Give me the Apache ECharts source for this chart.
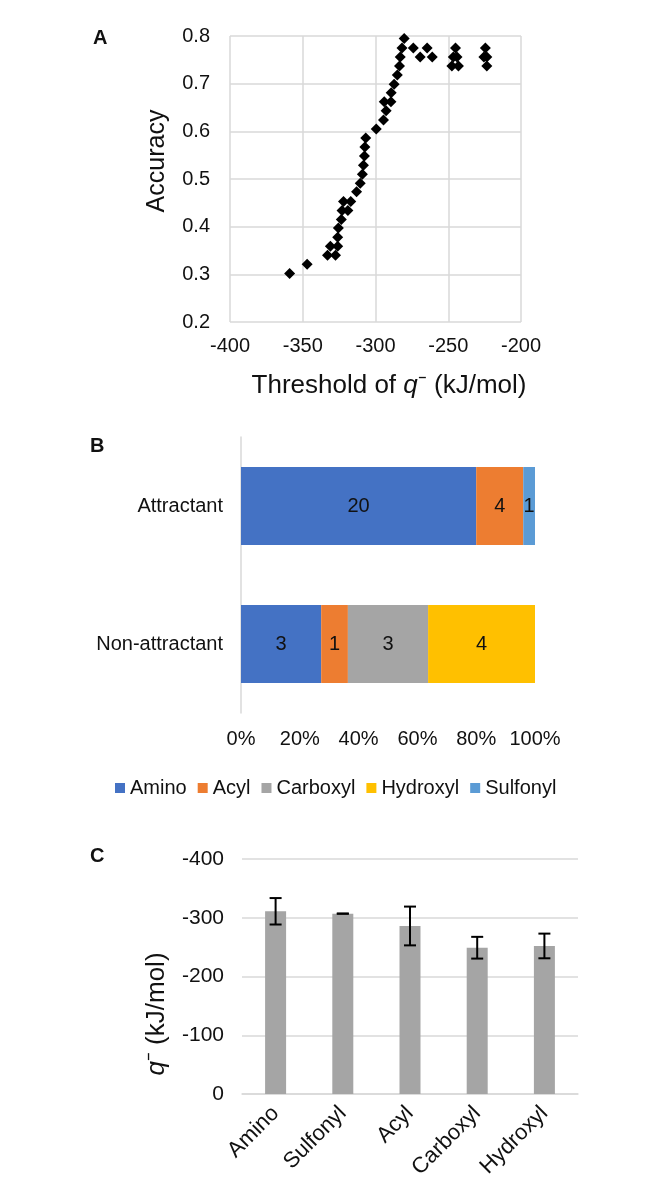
<!DOCTYPE html>
<html>
<head>
<meta charset="utf-8">
<script src="https://cdn.jsdelivr.net/npm/echarts@6/dist/echarts.min.js"></script>
<style>
html,body{margin:0;padding:0;background:#fff;}
#main{width:654px;height:1202px;}
</style>
</head>
<body>
<div id="main"></div>
<script>
// ---------- Panel A data ----------
const thresholdX = [-359,-347,-333,-327.5,-331,-326,-326,-325.5,-323.5,-323,-319,-322,-317,-313,-310.5,-309,-308.3,-307.6,-307.3,-306.7,-299.5,-294.5,-292.7,-294,-289.4,-289.2,-287.2,-285,-283.5,-283,-281.8,-280.3,-274,-269.3,-264.5,-261,-245,-246.5,-244,-247.5,-243,-224.5,-225.5,-223.5,-223.5];
const accuracyY  = [0.302,0.321,0.340,0.340,0.359,0.359,0.378,0.397,0.415,0.434,0.434,0.453,0.453,0.473,0.491,0.510,0.529,0.548,0.567,0.586,0.605,0.624,0.643,0.662,0.662,0.681,0.699,0.718,0.737,0.756,0.775,0.795,0.775,0.756,0.775,0.756,0.775,0.756,0.756,0.737,0.737,0.775,0.756,0.756,0.737];
const xTicksA = [-400,-350,-300,-250,-200];
const yTicksA = [0.2,0.3,0.4,0.5,0.6,0.7,0.8];

// ---------- Panel B data ----------
const groupsB = ['Attractant','Non-attractant'];
const typesB = ['Amino','Acyl','Carboxyl','Hydroxyl','Sulfonyl'];
const amino    = [20,3];
const acyl     = [4,1];
const carboxyl = [0,3];
const hydroxyl = [0,4];
const sulfonyl = [1,0];
const colorsB = ['#4472C4','#ED7D31','#A5A5A5','#FFC000','#5B9BD5'];

// ---------- Panel C data ----------
const catsC = ['Amino','Sulfonyl','Acyl','Carboxyl','Hydroxyl'];
const meanC = [-311,-307,-286,-249,-252];
const errC  = [22.5,0,33,18.5,21];

const FONT = 'Liberation Sans, Arial, sans-serif';
const TXT = '#111';
const GRIDC = '#d9d9d9';

const countsB = [amino, acyl, carboxyl, hydroxyl, sulfonyl];
const totals = groupsB.map((g,i)=>countsB.reduce((s,a)=>s+a[i],0));

const chart = echarts.init(document.getElementById('main'), null, {renderer:'canvas'});

const seriesB = typesB.map((name,k)=>({
  name, type:'bar', stack:'tot', xAxisIndex:1, yAxisIndex:1,
  barWidth:78,
  itemStyle:{color:colorsB[k]},
  data: countsB[k].map((c,i)=>({value:c/totals[i]*100, cnt:c})),
  label:{show:true, position:'inside', fontFamily:FONT, fontSize:20, color:TXT,
    formatter:(p)=> p.data.cnt ? String(p.data.cnt) : ''},
  emphasis:{disabled:true}
}));

const option = {
  animation:false,
  textStyle:{fontFamily:FONT},
  grid:[
    {left:230, top:36, width:291, height:286},
    {left:241, top:437, width:294, height:276},
    {left:242, top:859, width:336, height:235}
  ],
  xAxis:[
    {type:'value', gridIndex:0, min:xTicksA[0], max:xTicksA[xTicksA.length-1], interval:50,
      axisLine:{show:false}, axisTick:{show:false},
      splitLine:{show:true, lineStyle:{color:GRIDC, width:1.5}},
      axisLabel:{fontSize:20, color:TXT, margin:14, fontFamily:FONT}},
    {type:'value', gridIndex:1, min:0, max:100, interval:20,
      axisLine:{show:false}, axisTick:{show:false}, splitLine:{show:false},
      axisLabel:{fontSize:20, color:TXT, margin:16, formatter:'{value}%', fontFamily:FONT}},
    {type:'category', gridIndex:2, data:catsC,
      axisLine:{show:true, lineStyle:{color:GRIDC, width:1.5}}, axisTick:{show:false},
      axisLabel:{fontSize:22, color:TXT, rotate:45, margin:16, fontFamily:FONT}}
  ],
  yAxis:[
    {type:'value', gridIndex:0, min:yTicksA[0], max:yTicksA[yTicksA.length-1], interval:0.1,
      axisLine:{show:false}, axisTick:{show:false},
      splitLine:{show:true, lineStyle:{color:GRIDC, width:1.5}},
      axisLabel:{fontSize:20, color:TXT, margin:20, fontFamily:FONT, formatter:(v)=>v.toFixed(1)}},
    {type:'category', gridIndex:1, data:groupsB, inverse:true,
      axisLine:{show:true, lineStyle:{color:GRIDC, width:1.5}}, axisTick:{show:false},
      axisLabel:{fontSize:20, color:TXT, margin:18, fontFamily:FONT}},
    {type:'value', gridIndex:2, min:-400, max:0, interval:100, inverse:true,
      axisLine:{show:false}, axisTick:{show:false},
      splitLine:{show:true, lineStyle:{color:GRIDC, width:1.5}},
      axisLabel:{fontSize:21, color:TXT, margin:18, fontFamily:FONT}}
  ],
  legend:{
    data:typesB, left:110, top:773, icon:'rect', itemWidth:10, itemHeight:10, itemGap:11,
    textStyle:{fontSize:20, color:TXT, fontFamily:FONT}, selectedMode:false
  },
  series:[
    {type:'scatter', xAxisIndex:0, yAxisIndex:0, symbol:'diamond', symbolSize:11,
      itemStyle:{color:'#000', opacity:1},
      data: thresholdX.map((x,i)=>[x, accuracyY[i]])},
    ...seriesB,
    {type:'bar', xAxisIndex:2, yAxisIndex:2, barWidth:21, itemStyle:{color:'#A5A5A5'},
      data:meanC, emphasis:{disabled:true}},
    {type:'custom', xAxisIndex:2, yAxisIndex:2, z:10,
      data: meanC.map((m,i)=>[i, m-errC[i], m+errC[i]]),
      renderItem:(params, api)=>{
        const i = api.value(0);
        const p1 = api.coord([i, api.value(1)]);
        const p2 = api.coord([i, api.value(2)]);
        const w = 6;
        const st = {stroke:'#000', lineWidth:2};
        return {type:'group', children:[
          {type:'line', shape:{x1:p1[0], y1:p1[1], x2:p2[0], y2:p2[1]}, style:st},
          {type:'line', shape:{x1:p1[0]-w, y1:p1[1], x2:p1[0]+w, y2:p1[1]}, style:st},
          {type:'line', shape:{x1:p2[0]-w, y1:p2[1], x2:p2[0]+w, y2:p2[1]}, style:st}
        ]};
      }}
  ],
  graphic:[
    {type:'text', left:93, top:28, style:{text:'A', font:'bold 20px '+FONT, fill:TXT}},
    {type:'text', left:90, top:436, style:{text:'B', font:'bold 20px '+FONT, fill:TXT}},
    {type:'text', left:90, top:846, style:{text:'C', font:'bold 20px '+FONT, fill:TXT}},
    {type:'text', x:157, y:161, rotation:Math.PI/2,
      style:{text:'Accuracy', font:'25px '+FONT, fill:TXT, textAlign:'center', textVerticalAlign:'middle'}},
    {type:'text', x:389, y:386,
      style:{text:'Threshold of {i|q}⁻ (kJ/mol)', font:'26px '+FONT, fill:TXT, textAlign:'center', textVerticalAlign:'middle',
        rich:{i:{fontStyle:'italic', fontSize:26, fontFamily:FONT, fill:TXT}}}},
    {type:'text', x:157, y:1014, rotation:Math.PI/2,
      style:{text:'{i|q}⁻ (kJ/mol)', font:'26px '+FONT, fill:TXT, textAlign:'center', textVerticalAlign:'middle',
        rich:{i:{fontStyle:'italic', fontSize:26, fontFamily:FONT, fill:TXT}}}}
  ]
};
chart.setOption(option);
</script>
</body>
</html>
